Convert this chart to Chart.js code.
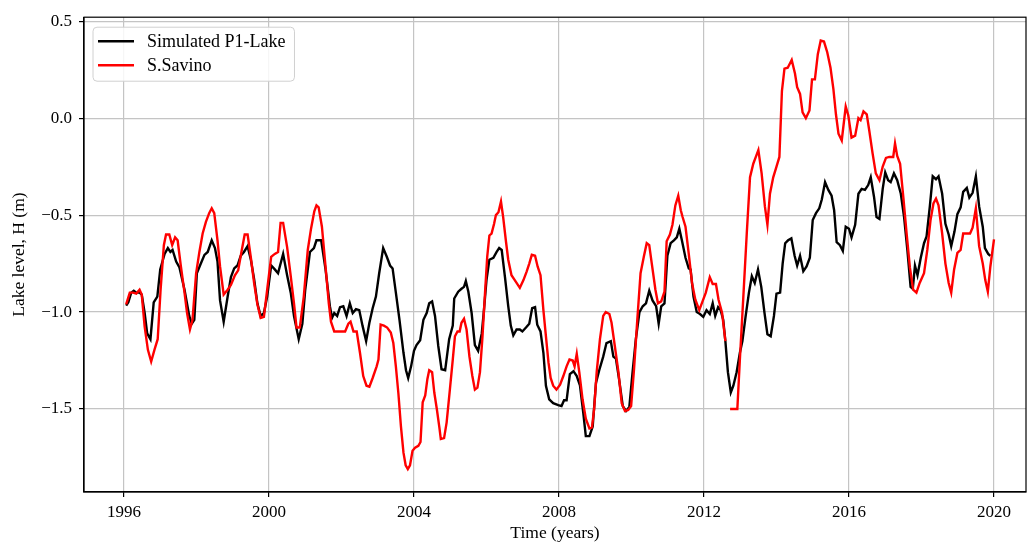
<!DOCTYPE html>
<html>
<head>
<meta charset="utf-8">
<script src="https://cdn.jsdelivr.net/npm/chart.js@4.4.0/dist/chart.umd.min.js"></script>
<style>
  html, body { margin: 0; padding: 0; background: #fff; }
  #wrap { width: 1028px; height: 542px; }
</style>
</head>
<body>
<div id="wrap"><canvas id="canvas" width="1028" height="542"></canvas></div>
<script>
var xTicks = [1996, 2000, 2004, 2008, 2012, 2016, 2020];
var yTicks = [-1.5, -1.0, -0.5, 0.0, 0.5];

var simT = [
  1996.06, 1996.12, 1996.2, 1996.27, 1996.34, 1996.43, 1996.49, 1996.57, 1996.64, 1996.73, 1996.82, 1996.92,
  1997.0, 1997.12, 1997.21, 1997.28, 1997.34, 1997.44, 1997.53, 1997.67, 1997.8, 1997.87, 1997.94,
  1998.01, 1998.12, 1998.22, 1998.31, 1998.42, 1998.51, 1998.58, 1998.65, 1998.75, 1998.86, 1998.95,
  1999.04, 1999.13, 1999.22, 1999.31, 1999.41, 1999.5, 1999.59, 1999.68, 1999.77, 1999.86, 1999.95,
  2000.06, 2000.16, 2000.25, 2000.39, 2000.5, 2000.6, 2000.69, 2000.82, 2000.92,
  2001.0, 2001.13, 2001.24, 2001.31, 2001.44, 2001.56, 2001.68, 2001.74, 2001.8, 2001.88, 2001.96,
  2002.05, 2002.14, 2002.23, 2002.31, 2002.4, 2002.49, 2002.58, 2002.68, 2002.77, 2002.86, 2002.95,
  2003.04, 2003.15, 2003.25, 2003.34, 2003.41, 2003.5, 2003.6, 2003.71, 2003.78, 2003.84, 2003.92,
  2004.0, 2004.07, 2004.17, 2004.26, 2004.35, 2004.42, 2004.5, 2004.58, 2004.67, 2004.76, 2004.86, 2004.97,
  2005.07, 2005.11, 2005.22, 2005.31, 2005.38, 2005.43, 2005.5, 2005.59, 2005.68, 2005.77, 2005.87, 2005.93,
  2006.0, 2006.08, 2006.19, 2006.28, 2006.35, 2006.42, 2006.51, 2006.6, 2006.67, 2006.74, 2006.83, 2006.92, 2006.99,
  2007.09, 2007.18, 2007.26, 2007.34, 2007.4, 2007.49, 2007.57, 2007.64, 2007.73, 2007.84, 2007.98,
  2008.07, 2008.14, 2008.21, 2008.3, 2008.4, 2008.49, 2008.58, 2008.67, 2008.74, 2008.84, 2008.93,
  2009.02, 2009.11, 2009.22, 2009.31, 2009.43, 2009.5, 2009.57, 2009.66, 2009.76, 2009.85, 2009.94,
  2010.03, 2010.12, 2010.22, 2010.31, 2010.4, 2010.49, 2010.58, 2010.68, 2010.75, 2010.82, 2010.91, 2010.99,
  2011.08, 2011.17, 2011.25, 2011.32, 2011.39, 2011.49, 2011.58, 2011.63, 2011.71, 2011.8, 2011.89, 2011.98,
  2012.07, 2012.16, 2012.24, 2012.31, 2012.39, 2012.46, 2012.53, 2012.59, 2012.66, 2012.74, 2012.81, 2012.9, 2012.99,
  2013.06, 2013.15, 2013.24, 2013.32, 2013.4, 2013.49, 2013.58, 2013.67, 2013.75, 2013.84, 2013.93,
  2014.0, 2014.1, 2014.17, 2014.24, 2014.32, 2014.41, 2014.5, 2014.57, 2014.65, 2014.74, 2014.83, 2014.92,
  2015.0, 2015.09, 2015.18, 2015.25, 2015.34, 2015.43, 2015.52, 2015.59, 2015.66, 2015.75, 2015.83, 2015.91,
  2016.0, 2016.07, 2016.17, 2016.26, 2016.35, 2016.44, 2016.53, 2016.6, 2016.69, 2016.76, 2016.84, 2016.93,
  2017.0, 2017.08, 2017.15, 2017.24, 2017.33, 2017.43, 2017.52, 2017.61, 2017.7, 2017.76, 2017.82, 2017.89, 2017.98,
  2018.07, 2018.14, 2018.23, 2018.31, 2018.4, 2018.47, 2018.57, 2018.66, 2018.75, 2018.82, 2018.91, 2018.99,
  2019.08, 2019.15, 2019.25, 2019.32, 2019.41, 2019.5, 2019.59, 2019.69, 2019.75, 2019.84, 2019.9
];
var simH = [
  -0.967, -0.95, -0.9, -0.89, -0.9, -0.9, -0.91, -1.005, -1.11, -1.14, -0.95, -0.92,
  -0.78, -0.7, -0.67, -0.69, -0.68, -0.74, -0.77, -0.885, -1.02, -1.06, -1.04,
  -0.8, -0.75, -0.705, -0.69, -0.63, -0.67, -0.74, -0.94, -1.05, -0.92, -0.82,
  -0.775, -0.76, -0.71, -0.69, -0.66, -0.73, -0.83, -0.955, -1.02, -1.005, -0.92,
  -0.76, -0.78, -0.8, -0.7, -0.81, -0.9, -1.02, -1.14, -1.06,
  -0.885, -0.69, -0.67, -0.63, -0.63, -0.78, -0.97, -1.03, -1.005, -1.02, -0.975,
  -0.97, -1.02, -0.955, -1.005, -0.985, -0.99, -1.07, -1.15, -1.055, -0.98, -0.92,
  -0.8, -0.67, -0.715, -0.76, -0.775, -0.9, -1.04, -1.21, -1.3, -1.34, -1.28,
  -1.2, -1.17, -1.145, -1.04, -1.005, -0.955, -0.945, -1.02, -1.175, -1.295, -1.3, -1.14,
  -1.07, -0.93, -0.895, -0.88, -0.87, -0.84, -0.895, -1.005, -1.17, -1.2, -1.11, -0.99,
  -0.835, -0.73, -0.72, -0.69, -0.67, -0.68, -0.82, -0.97, -1.07, -1.12, -1.09, -1.09, -1.1,
  -1.08, -1.06, -0.98, -0.975, -1.065, -1.1, -1.21, -1.38, -1.45, -1.47, -1.48,
  -1.485, -1.455, -1.455, -1.32, -1.305, -1.33, -1.38, -1.52, -1.64, -1.64, -1.59,
  -1.365, -1.3, -1.23, -1.16, -1.15, -1.23, -1.24, -1.35, -1.485, -1.51, -1.49,
  -1.31, -1.14, -1.0, -0.97, -0.955, -0.89, -0.94, -0.97, -1.06, -0.97, -0.955, -0.71,
  -0.645, -0.63, -0.615, -0.57, -0.63, -0.72, -0.775, -0.78, -0.92, -1.0, -1.01, -1.025,
  -0.99, -1.01, -0.955, -1.02, -0.975, -0.99, -1.04, -1.15, -1.31, -1.415, -1.38, -1.31, -1.21,
  -1.15, -1.02, -0.9, -0.815, -0.85, -0.78, -0.87, -1.005, -1.115, -1.125, -1.02,
  -0.905, -0.9, -0.75, -0.645, -0.63, -0.62, -0.71, -0.76, -0.71, -0.79, -0.765, -0.72,
  -0.525, -0.49, -0.465, -0.42, -0.33, -0.37, -0.4, -0.475, -0.64, -0.655, -0.685, -0.56,
  -0.57, -0.615, -0.55, -0.39, -0.365, -0.37, -0.345, -0.305, -0.405, -0.51, -0.52, -0.365,
  -0.28, -0.32, -0.33, -0.285, -0.32, -0.39, -0.51, -0.68, -0.87, -0.88, -0.76, -0.81, -0.72,
  -0.645, -0.61, -0.455, -0.3, -0.315, -0.3, -0.39, -0.545, -0.6, -0.66, -0.585, -0.495,
  -0.46, -0.38, -0.36, -0.41, -0.385, -0.3, -0.455, -0.56, -0.67, -0.7, -0.71
];

var obsT = [
  1996.06, 1996.16, 1996.25, 1996.34, 1996.43, 1996.49, 1996.57, 1996.66, 1996.75, 1996.84, 1996.93,
  1997.01, 1997.1, 1997.16, 1997.25, 1997.33, 1997.41, 1997.48, 1997.57, 1997.67, 1997.74, 1997.82, 1997.89, 1997.99,
  1998.08, 1998.17, 1998.26, 1998.35, 1998.42, 1998.49, 1998.58, 1998.65, 1998.75, 1998.86, 1998.95,
  1999.06, 1999.15, 1999.24, 1999.33, 1999.41, 1999.5, 1999.59, 1999.68, 1999.77, 1999.86, 1999.95,
  2000.06, 2000.16, 2000.25, 2000.32, 2000.39, 2000.5, 2000.6, 2000.69, 2000.76, 2000.85, 2000.96,
  2001.07, 2001.16, 2001.25, 2001.31, 2001.37, 2001.46, 2001.56, 2001.65, 2001.71, 2001.8, 2001.92,
  2002.02, 2002.1, 2002.19, 2002.25, 2002.33, 2002.42, 2002.51, 2002.6, 2002.69, 2002.77, 2002.86, 2002.97,
  2003.02, 2003.08, 2003.17, 2003.26, 2003.36, 2003.43, 2003.5, 2003.57, 2003.64, 2003.71, 2003.77, 2003.83, 2003.89, 2003.96,
  2004.03, 2004.12, 2004.18, 2004.24, 2004.31, 2004.37, 2004.42, 2004.5, 2004.56, 2004.63, 2004.7, 2004.74, 2004.83, 2004.9, 2004.99,
  2005.07, 2005.13, 2005.2, 2005.26, 2005.31, 2005.38, 2005.45, 2005.53, 2005.61, 2005.68, 2005.75, 2005.82, 2005.89, 2005.96,
  2006.02, 2006.08, 2006.14, 2006.21, 2006.26, 2006.33, 2006.4, 2006.46, 2006.54, 2006.6, 2006.69, 2006.78, 2006.92,
  2007.02, 2007.11, 2007.18, 2007.25, 2007.34, 2007.41, 2007.49, 2007.57, 2007.64, 2007.71, 2007.77, 2007.84, 2007.93,
  2008.03, 2008.12, 2008.21, 2008.29, 2008.38, 2008.43, 2008.49, 2008.56, 2008.65, 2008.74, 2008.84, 2008.91, 2008.97,
  2009.04, 2009.13, 2009.22, 2009.29, 2009.39, 2009.45, 2009.54, 2009.64, 2009.73, 2009.82, 2009.91, 2009.99,
  2010.07, 2010.16, 2010.25, 2010.34, 2010.42, 2010.49, 2010.56, 2010.66, 2010.73, 2010.82, 2010.91, 2010.97,
  2011.06, 2011.13, 2011.21, 2011.29, 2011.36, 2011.41, 2011.49, 2011.58, 2011.67, 2011.76, 2011.87, 2011.96,
  2012.05, 2012.16, 2012.24, 2012.33, 2012.4, 2012.5, 2012.59, 2012.65, 2012.72, 2012.92, 2012.99,
  2013.08, 2013.18, 2013.27, 2013.36, 2013.43, 2013.5, 2013.59, 2013.68, 2013.75, 2013.82, 2013.91,
  2014.0, 2014.08, 2014.15, 2014.22, 2014.31, 2014.42, 2014.51, 2014.57, 2014.65, 2014.72, 2014.81, 2014.91, 2014.98,
  2015.06, 2015.14, 2015.22, 2015.31, 2015.4, 2015.49, 2015.57, 2015.64, 2015.71, 2015.8, 2015.91, 2015.98,
  2016.07, 2016.17, 2016.26, 2016.32, 2016.4, 2016.49, 2016.56, 2016.65, 2016.74, 2016.84, 2016.93,
  2017.02, 2017.11, 2017.22, 2017.27, 2017.33, 2017.41, 2017.5, 2017.59, 2017.68, 2017.77, 2017.86, 2017.95,
  2018.07, 2018.16, 2018.25, 2018.33, 2018.4, 2018.47, 2018.57, 2018.66, 2018.75, 2018.82, 2018.9, 2018.99,
  2019.08, 2019.15, 2019.26, 2019.34, 2019.41, 2019.5, 2019.59, 2019.69, 2019.76, 2019.83, 2019.9, 2020.0
];
var obsH = [
  -0.96, -0.9, -0.9, -0.905, -0.885, -0.91, -1.075, -1.195, -1.255, -1.195, -1.14,
  -0.885, -0.655, -0.6, -0.6, -0.655, -0.615, -0.63, -0.765, -0.9, -1.005, -1.09, -1.04, -0.8,
  -0.69, -0.595, -0.535, -0.49, -0.465, -0.49, -0.63, -0.765, -0.91, -0.885, -0.86,
  -0.81, -0.785, -0.69, -0.6, -0.6, -0.72, -0.85, -0.96, -1.03, -1.025, -0.885,
  -0.715, -0.7, -0.69, -0.54, -0.54, -0.665, -0.815, -0.955, -1.08, -1.08, -0.92,
  -0.68, -0.57, -0.48, -0.45, -0.46, -0.56, -0.765, -0.955, -1.05, -1.1, -1.1,
  -1.1, -1.1, -1.06, -1.05, -1.1, -1.1, -1.21, -1.33, -1.38, -1.385, -1.34, -1.28,
  -1.245, -1.065, -1.07, -1.08, -1.105, -1.16, -1.28, -1.42, -1.59, -1.725, -1.79, -1.81, -1.79, -1.715,
  -1.7, -1.69, -1.67, -1.465, -1.43, -1.345, -1.3, -1.31, -1.415, -1.5, -1.595, -1.655, -1.65, -1.57, -1.4,
  -1.245, -1.125, -1.1, -1.1, -1.055, -1.035, -1.09, -1.23, -1.33, -1.4, -1.39, -1.31, -1.125, -0.9,
  -0.715, -0.605, -0.595, -0.545, -0.5, -0.485, -0.43, -0.51, -0.64, -0.73, -0.81, -0.835, -0.875,
  -0.835, -0.79, -0.75, -0.705, -0.71, -0.765, -0.81, -0.99, -1.125, -1.26, -1.34, -1.38, -1.4,
  -1.375, -1.33, -1.28, -1.245, -1.25, -1.28, -1.215, -1.31, -1.45, -1.55, -1.6, -1.595, -1.5,
  -1.31, -1.14, -1.02, -1.0, -1.01, -1.055, -1.175, -1.31, -1.47, -1.51, -1.505, -1.485,
  -1.295, -1.04, -0.8, -0.715, -0.645, -0.655, -0.75, -0.885, -0.955, -0.945, -0.895, -0.635,
  -0.6, -0.55, -0.45, -0.4, -0.475, -0.51, -0.56, -0.7, -0.85, -0.935, -0.99, -0.945,
  -0.9, -0.82, -0.855, -0.855, -0.935, -1.005, -1.15, null, -1.5, -1.5, -1.245,
  -0.94, -0.595, -0.305, -0.235, -0.2, -0.165, -0.285, -0.455, -0.55, -0.39, -0.305,
  -0.25, -0.2, 0.14, 0.255, 0.26, 0.3, 0.23, 0.16, 0.125, 0.03, 0.0, 0.04, 0.2,
  0.2, 0.33, 0.4, 0.395, 0.34, 0.26, 0.15, 0.02, -0.08, -0.115, 0.06, 0.015,
  -0.1, -0.09, 0.0, -0.01, 0.035, 0.02, -0.065, -0.18, -0.285, -0.32, -0.25,
  -0.205, -0.2, -0.2, -0.13, -0.195, -0.235, -0.41, -0.595, -0.77, -0.885, -0.9, -0.85,
  -0.8, -0.68, -0.525, -0.44, -0.415, -0.45, -0.595, -0.75, -0.85, -0.9, -0.78, -0.695,
  -0.68, -0.595, -0.595, -0.595, -0.565, -0.465, -0.66, -0.75, -0.835, -0.895, -0.765, -0.625
];

function pairs(t, h) {
  return t.map(function(v, i) { return { x: v, y: h[i] }; });
}

var serif = "'Liberation Serif', 'DejaVu Serif', serif";

// axes frame (all four spines) and the boxed legend, matplotlib style
var framePlugin = {
  id: 'frame',
  afterDatasetsDraw: function(chart) {
    var a = chart.chartArea, ctx = chart.ctx;
    ctx.save();
    ctx.strokeStyle = '#000';
    ctx.lineWidth = 1.2;
    ctx.strokeRect(a.left, a.top, a.right - a.left, a.bottom - a.top);

    ctx.font = '18px ' + serif;
    var ds = chart.data.datasets;
    var tw = 0;
    ds.forEach(function(d) { tw = Math.max(tw, ctx.measureText(d.label).width); });
    var bx = a.left + 9, by = a.top + 10, bw = 54 + tw + 9, bh = 54;
    ctx.beginPath();
    ctx.roundRect(bx, by, bw, bh, 4);
    ctx.fillStyle = 'rgba(255,255,255,0.85)';
    ctx.fill();
    ctx.strokeStyle = '#d0d0d0';
    ctx.lineWidth = 1;
    ctx.stroke();
    ds.forEach(function(d, i) {
      var y = by + 14 + i * 24;
      ctx.beginPath();
      ctx.moveTo(bx + 5, y);
      ctx.lineTo(bx + 41, y);
      ctx.strokeStyle = d.borderColor;
      ctx.lineWidth = 2.4;
      ctx.stroke();
      ctx.fillStyle = '#000';
      ctx.textBaseline = 'middle';
      ctx.fillText(d.label, bx + 54, y + 1);
    });
    ctx.restore();
  }
};

var ctx = document.getElementById('canvas').getContext('2d');
new Chart(ctx, {
  type: 'scatter',
  data: {
    datasets: [{
      label: 'Simulated P1-Lake',
      data: pairs(simT, simH),
      showLine: true,
      borderColor: '#000000',
      borderWidth: 2.4,
      pointRadius: 0,
      order: 2
    }, {
      label: 'S.Savino',
      data: pairs(obsT, obsH),
      showLine: true,
      spanGaps: false,
      borderColor: '#ff0000',
      borderWidth: 2.4,
      pointRadius: 0,
      order: 1
    }]
  },
  options: {
    responsive: false,
    animation: false,
    layout: { padding: { top: 17, right: 2, left: 0, bottom: 0 } },
    plugins: {
      legend: { display: false },
      tooltip: { enabled: false }
    },
    scales: {
      x: {
        type: 'linear',
        min: 1994.897,
        max: 2020.883,
        afterBuildTicks: function(s) { s.ticks = xTicks.map(function(v) { return { value: v }; }); },
        afterFit: function(s) { s.height = 50; },
        grid: { color: '#c4c4c4', lineWidth: 1.2, tickLength: 5, tickColor: '#000' },
        border: { color: '#000', width: 1.2 },
        ticks: { color: '#000', font: { family: serif, size: 17 }, padding: 5, maxRotation: 0,
          callback: function(v) { return String(v); } },
        title: { display: true, text: 'Time (years)', color: '#000',
          font: { family: serif, size: 17.5, lineHeight: 1 }, padding: { top: 0, bottom: 0 } }
      },
      y: {
        min: -1.928,
        max: 0.5206,
        afterBuildTicks: function(s) { s.ticks = yTicks.map(function(v) { return { value: v }; }); },
        afterFit: function(s) { s.width = 84; },
        grid: { color: '#c4c4c4', lineWidth: 1.2, tickLength: 5, tickColor: '#000' },
        border: { color: '#000', width: 1.2 },
        ticks: { color: '#000', font: { family: serif, size: 17 }, padding: 7,
          callback: function(v) { return v.toFixed(1).replace('-', '\u2212'); } },
        title: { display: true, text: 'Lake level, H (m)', color: '#000',
          font: { family: serif, size: 17.5, lineHeight: 1 }, padding: { top: 11, bottom: 0 } }
      }
    }
  },
  plugins: [framePlugin]
});
</script>
</body>
</html>
